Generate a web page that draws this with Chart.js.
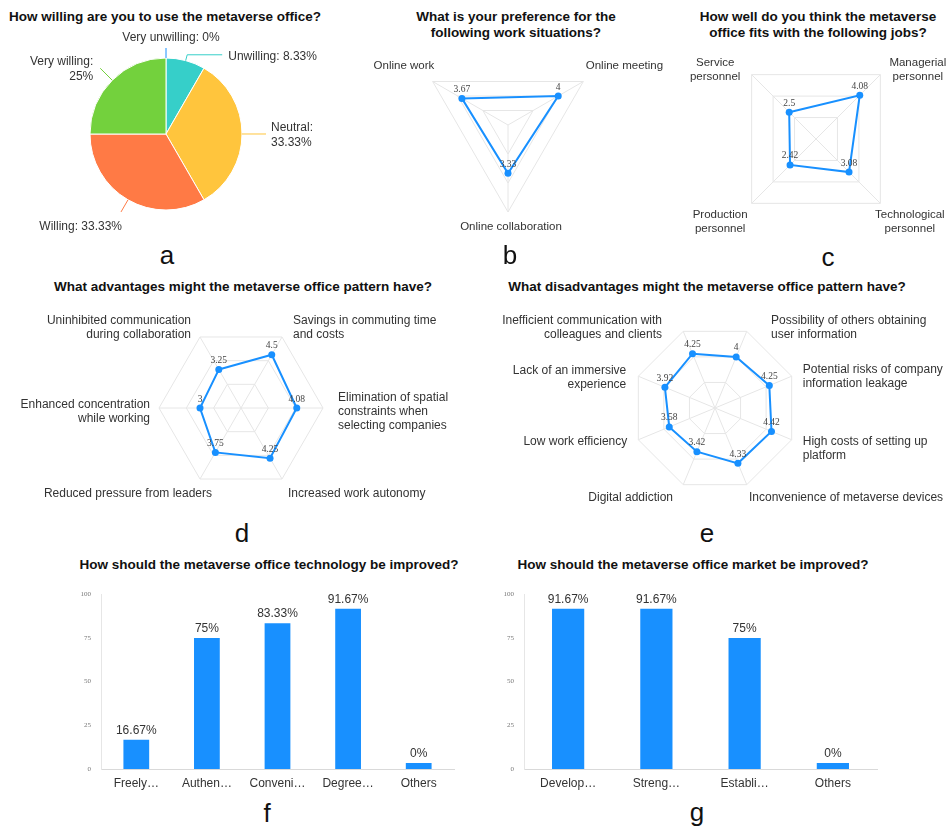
<!DOCTYPE html>
<html>
<head>
<meta charset="utf-8">
<script src="https://cdn.jsdelivr.net/npm/chart.js@4"></script>
<style>
body{margin:0;background:#fff;}
#page{position:relative;width:948px;height:826px;overflow:hidden;font-family:"Liberation Sans",Arial,sans-serif;color:#111;}
canvas{position:absolute;}
.t{position:absolute;transform:translate(-50%,-50%);white-space:nowrap;font-weight:bold;font-size:13.5px;line-height:16px;text-align:center;color:#111;}
.l{position:absolute;transform:translate(-50%,-50%);font-size:26px;line-height:26px;color:#111;}
</style>
</head>
<body>
<div id="page">
  <div class="t" style="left:165px;top:17px">How willing are you to use the metaverse office?</div>
  <div class="t" style="left:516px;top:25px">What is your preference for the<br>following work situations?</div>
  <div class="t" style="left:818px;top:25px">How well do you think the metaverse<br>office fits with the following jobs?</div>
  <div class="t" style="left:243px;top:287px">What advantages might the metaverse office pattern have?</div>
  <div class="t" style="left:707px;top:287px">What disadvantages might the metaverse office pattern have?</div>
  <div class="t" style="left:269px;top:565px">How should the metaverse office technology be improved?</div>
  <div class="t" style="left:693px;top:565px">How should the metaverse office market be improved?</div>

  <canvas id="pieChart" width="330" height="240" style="left:0;top:0"></canvas>
  <canvas id="jobChart" width="318" height="200" style="left:630px;top:40px"></canvas>
  <canvas id="workChart" width="340" height="210" style="left:330px;top:30px"></canvas>
  <canvas id="advChart" width="474" height="215" style="left:0;top:300px"></canvas>
  <canvas id="disChart" width="474" height="215" style="left:474px;top:300px"></canvas>
  <canvas id="techChart" width="410" height="215" style="left:60px;top:580px"></canvas>
  <canvas id="marketChart" width="410" height="215" style="left:480px;top:580px"></canvas>

  <div class="l" style="left:167px;top:255px">a</div>
  <div class="l" style="left:510px;top:255px">b</div>
  <div class="l" style="left:828px;top:257px">c</div>
  <div class="l" style="left:242px;top:533px">d</div>
  <div class="l" style="left:707px;top:533px">e</div>
  <div class="l" style="left:267px;top:813px">f</div>
  <div class="l" style="left:697px;top:812px">g</div>
</div>
<script>
// ---- data ----
var pieLabels = ['Very unwilling', 'Unwilling', 'Neutral', 'Willing', 'Very willing'];
var pieValues = [0, 8.33, 33.33, 33.33, 25];

var workLabels = ['Online work', 'Online meeting', 'Online collaboration'];
var workValues = [3.67, 4, 3.33];

var jobLabels = [['Service', 'personnel'], ['Managerial', 'personnel'], ['Technological', 'personnel'], ['Production', 'personnel']];
var jobValues = [2.5, 4.08, 3.08, 2.42];

var advLabels = [['Uninhibited communication', 'during collaboration'], ['Savings in commuting time', 'and costs'],
  ['Elimination of spatial', 'constraints when', 'selecting companies'], 'Increased work autonomy',
  'Reduced pressure from leaders', ['Enhanced concentration', 'while working']];
var advValues = [3.25, 4.5, 4.08, 4.25, 3.75, 3];

var disLabels = [['Inefficient communication with', 'colleagues and clients'], ['Possibility of others obtaining', 'user information'],
  ['Potential risks of company', 'information leakage'], ['High costs of setting up', 'platform'],
  'Inconvenience of metaverse devices', 'Digital addiction', 'Low work efficiency', ['Lack of an immersive', 'experience']];
var disValues = [4.25, 4, 4.25, 4.42, 4.33, 3.42, 3.58, 3.92];

var radarMin = 0, radarMax = 6, radarStep = 2;

var techLabels = ['Freely\u2026', 'Authen\u2026', 'Conveni\u2026', 'Degree\u2026', 'Others'];
var techValues = [16.67, 75, 83.33, 91.67, 0];
var marketLabels = ['Develop\u2026', 'Streng\u2026', 'Establi\u2026', 'Others'];
var marketValues = [91.67, 91.67, 75, 0];
var barTicks = [0, 25, 50, 75, 100];

// ---- styles ----
var SANS = '"Liberation Sans", Arial, sans-serif';
var SERIF = '"Liberation Serif", "Times New Roman", serif';
var BLUE = '#1890ff';
var pieColors = ['#1890ff', '#36cfc9', '#ffc53d', '#ff7a45', '#73d13d'];
// leader line: radial part, horizontal part, text offset, alignment
var pieLabelStyle = [
  {radial: 10, horiz: 0, dx: 5, dy: -10, align: 'center', split: false},
  {radial: 6, horiz: 35, dx: 6, dy: 2, align: 'left', split: false},
  {radial: 0, horiz: 24, dx: 5, dy: 1.5, align: 'left', split: true},
  {radial: 14, horiz: 0, dx: 1, dy: 15, align: 'right', split: false},
  {radial: 17, horiz: 0, dx: -7, dy: 0.5, align: 'right', split: true}
];

Chart.defaults.font.family = SANS;

// ---- pie ----
var pieLabelPlugin = {
  id: 'pieLabels',
  afterDraw: function(chart) {
    var ctx = chart.ctx;
    var arcs = chart.getDatasetMeta(0).data;
    ctx.save();
    ctx.font = '12px ' + SANS;
    ctx.fillStyle = '#333';
    ctx.textBaseline = 'middle';
    arcs.forEach(function(arc, i) {
      var s = pieLabelStyle[i];
      var mid = (arc.startAngle + arc.endAngle) / 2;
      var r = arc.outerRadius;
      var x0 = arc.x + Math.cos(mid) * r, y0 = arc.y + Math.sin(mid) * r;
      var x1 = arc.x + Math.cos(mid) * (r + s.radial), y1 = arc.y + Math.sin(mid) * (r + s.radial);
      var dir = Math.cos(mid) >= -0.001 ? 1 : -1;
      var x2 = x1 + dir * s.horiz;
      ctx.strokeStyle = pieColors[i];
      ctx.lineWidth = 1;
      ctx.beginPath();
      ctx.moveTo(x0, y0);
      ctx.lineTo(x1, y1);
      ctx.lineTo(x2, y1);
      ctx.stroke();
      var lines = s.split ? [pieLabels[i] + ':', pieValues[i] + '%'] : [pieLabels[i] + ': ' + pieValues[i] + '%'];
      var lh = 15;
      var ty = y1 + s.dy - (lines.length - 1) * lh / 2;
      ctx.textAlign = s.align;
      lines.forEach(function(l, k) { ctx.fillText(l, x2 + s.dx, ty + k * lh); });
    });
    ctx.restore();
  }
};

new Chart(document.getElementById('pieChart').getContext('2d'), {
  type: 'pie',
  data: {
    labels: pieLabels,
    datasets: [{data: pieValues, backgroundColor: pieColors, borderColor: '#fff', borderWidth: 1,
      radius: 76, hoverOffset: 0, offset: 0}]
  },
  options: {
    responsive: false, animation: false, devicePixelRatio: 1,
    layout: {padding: {top: 28, left: 2}},
    plugins: {legend: {display: false}, tooltip: {enabled: false}}
  },
  plugins: [pieLabelPlugin]
});

// ---- radar ----
function radarLabels(set) {
  return {
    id: 'radarLabels',
    afterDraw: function(chart) {
      var sc = chart.scales.r, ctx = chart.ctx;
      ctx.save();
      ctx.font = set.size + 'px ' + SANS;
      ctx.fillStyle = '#333';
      ctx.textBaseline = 'middle';
      chart.data.labels.forEach(function(lab, i) {
        var p = sc.getPointPosition(i, sc.drawingArea + 12);
        var c = Math.cos(p.angle);
        var align = set.align || (c > 0.05 ? 'left' : (c < -0.05 ? 'right' : 'center'));
        var n = set.nudge[i];
        var lines = [].concat(lab);
        var y0 = p.y + n[1] - (lines.length - 1) * 14 / 2;
        ctx.textAlign = align;
        lines.forEach(function(l, k) { ctx.fillText(l, p.x + n[0], y0 + k * 14); });
      });
      ctx.font = '9.5px ' + SERIF;
      ctx.fillStyle = '#444';
      ctx.textAlign = 'center';
      var vals = chart.data.datasets[0].data;
      chart.getDatasetMeta(0).data.forEach(function(pt, i) {
        ctx.fillText(String(vals[i]), pt.x, pt.y - 9);
      });
      ctx.restore();
    }
  };
}

function drawRadar(id, labels, values, set) {
  var cv = document.getElementById(id);
  var W = cv.width, H = cv.height;
  new Chart(cv.getContext('2d'), {
    type: 'radar',
    data: {
      labels: labels,
      datasets: [{data: values, fill: false, borderColor: BLUE, borderWidth: 2,
        pointRadius: 3.5, pointBackgroundColor: BLUE, pointBorderColor: BLUE, pointBorderWidth: 0}]
    },
    options: {
      responsive: false, animation: false, devicePixelRatio: 1,
      layout: {padding: {left: set.cx - set.R, right: W - set.cx - set.R, top: set.cy - set.R, bottom: H - set.cy - set.R}},
      plugins: {legend: {display: false}, tooltip: {enabled: false}},
      scales: {
        r: {
          min: radarMin, max: radarMax, startAngle: set.start,
          ticks: {display: false, stepSize: radarStep},
          grid: {color: '#e6e6e6'},
          angleLines: {color: '#e6e6e6'},
          pointLabels: {display: false}
        }
      }
    },
    plugins: [radarLabels(set)]
  });
}

drawRadar('workChart', workLabels, workValues, {cx: 178, cy: 95, R: 87, start: -60, size: 11.5,
  nudge: [[12, -9.5], [-8, -9.5], [3, 3]]});
drawRadar('jobChart', jobLabels, jobValues, {cx: 186.5, cy: 99, R: 91, start: -45, size: 11.5, align: 'center',
  nudge: [[-28, 4], [29, 4], [21, 10], [-23, 10]]});
drawRadar('advChart', advLabels, advValues, {cx: 241, cy: 108, R: 82, start: -30, size: 12,
  nudge: [[-3, 1], [5, 1], [3, 4], [0, 4.6], [18, 4.6], [3, 4]]});
drawRadar('disChart', disLabels, disValues, {cx: 241, cy: 108, R: 83, start: -22.5, size: 12,
  nudge: [[-16.6, 7], [19.6, 7], [0, 5.5], [0, 4.6], [-2.4, 2], [-5.6, 2], [0, -2.4], [-1, 6.4]]});

// ---- bars ----
var barValuePlugin = {
  id: 'barValues',
  afterDatasetsDraw: function(chart) {
    var ctx = chart.ctx, vals = chart.data.datasets[0].data;
    ctx.save();
    ctx.font = '12px ' + SANS;
    ctx.fillStyle = '#333';
    ctx.textAlign = 'center';
    ctx.textBaseline = 'middle';
    chart.getDatasetMeta(0).data.forEach(function(bar, i) {
      ctx.fillText(vals[i] + '%', bar.x, bar.y - 9.5);
    });
    ctx.restore();
  }
};

function drawBars(id, labels, values, axisW, padRight) {
  new Chart(document.getElementById(id).getContext('2d'), {
    type: 'bar',
    data: {
      labels: labels,
      datasets: [{data: values, backgroundColor: BLUE, barPercentage: 0.365, categoryPercentage: 1, minBarLength: 6}]
    },
    options: {
      responsive: false, animation: false, devicePixelRatio: 1,
      layout: {padding: {top: 9, right: padRight, left: 0, bottom: 0}},
      plugins: {legend: {display: false}, tooltip: {enabled: false}},
      scales: {
        x: {
          grid: {display: false, drawTicks: false},
          border: {color: '#d9d9d9'},
          ticks: {color: '#333', font: {size: 12}, padding: 7, maxRotation: 0, autoSkip: false},
          afterFit: function(s) { s.height = 26; }
        },
        y: {
          min: barTicks[0], max: barTicks[barTicks.length - 1],
          grid: {display: false, drawTicks: false},
          border: {color: '#e6e6e6'},
          ticks: {stepSize: barTicks[1] - barTicks[0], color: '#777', font: {size: 7, family: SERIF}, padding: 10},
          afterFit: function(s) { s.width = axisW; }
        }
      }
    },
    plugins: [barValuePlugin]
  });
}

drawBars('techChart', techLabels, techValues, 41, 16);
drawBars('marketChart', marketLabels, marketValues, 44, 13);
</script>
</body>
</html>
